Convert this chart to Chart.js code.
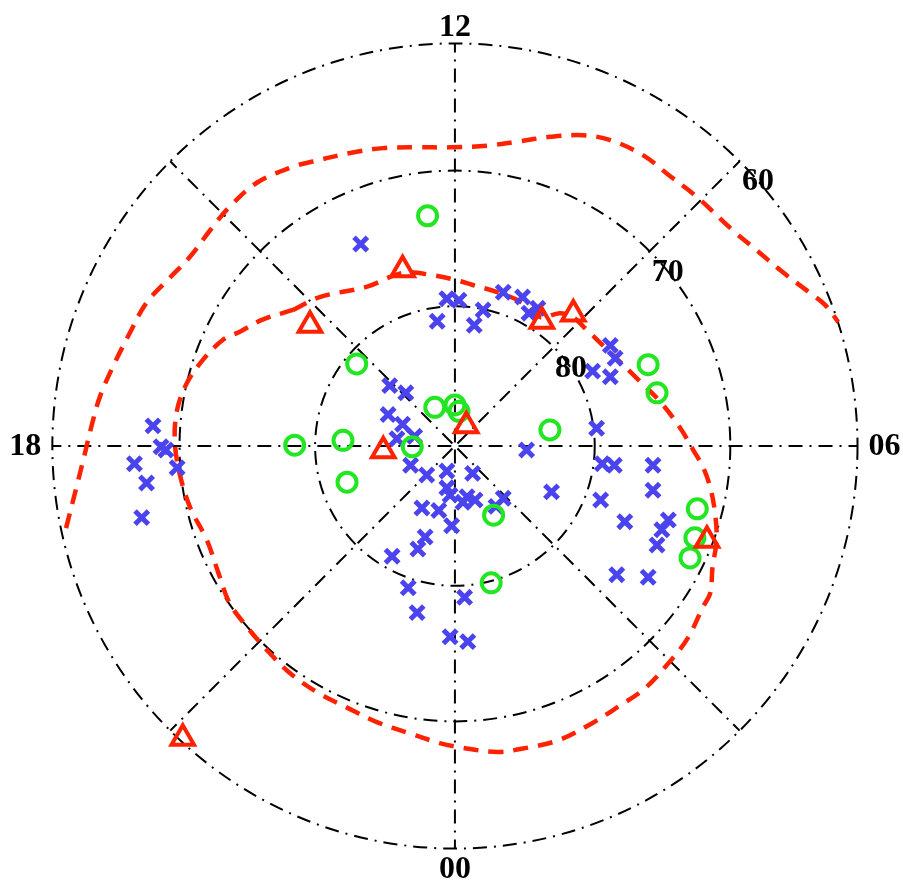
<!DOCTYPE html>
<html>
<head>
<meta charset="utf-8">
<script src="https://cdn.jsdelivr.net/npm/chart.js@4.4.1/dist/chart.umd.min.js"></script>
<style>
  html, body { margin: 0; padding: 0; background: #fff; }
  #wrap { width: 903px; height: 882px; }
</style>
</head>
<body>
<div id="wrap"><canvas id="polarChart"></canvas></div>
<script>
// positions on the polar plane: r = 100*cos(lat), x toward 06 MLT, y toward 12 MLT
const crossX = [-37.5, -36.5, -35.9, -39.8, -34.5, -38.3, -38.9, -11.7, -1.0, 0.5, -2.2, 3.5, 2.4, 6.0, 8.4, 9.2,
  10.3, 19.3, 19.9, 17.1, 19.3, 17.6, 18.3, 19.8, 24.6, 24.6, 18.1, 21.1, 26.5, 25.7, 25.1, 20.1, 24.0,
  -8.1, -6.1, -8.3, -6.5, -5.0, -7.2, -5.5, -3.5, -1.0, 2.2, -1.0, -0.6, 1.5, 2.5, 1.0, 5.1, 6.0,
  -4.1, -2.0, -0.4, -3.7, -4.6, -7.8, -5.8, -4.7, 1.2, -0.6, 1.6, 8.9, 12.0];
const crossY = [2.5, -0.1, -0.5, -2.2, -2.7, -4.6, -8.9, 25.1, 18.3, 18.1, 15.5, 16.9, 15.0, 19.1, 18.5, 16.5,
  17.1, 12.5, 10.9, 9.3, 8.6, 2.2, -2.2, -2.4, -2.4, -5.5, -6.7, -9.4, -9.2, -10.4, -12.3, -16.0, -16.3,
  7.5, 6.6, 3.9, 2.7, 1.2, 0.9, -2.4, -3.6, -3.1, -3.4, -5.2, -6.1, -6.3, -6.7, -7.0, -7.5, -6.5,
  -7.7, -8.0, -9.9, -11.3, -12.8, -13.7, -17.6, -20.7, -18.8, -23.7, -24.3, -0.5, -5.7];

const circleX = [-3.4, -12.2, -2.5, 0.0, 0.5, -5.3, -19.9, -13.9, -13.4, 11.8, 4.8, 4.5, 24.0, 25.1, 30.1, 29.8, 29.2];
const circleY = [28.6, 10.2, 4.8, 5.1, 4.3, -0.1, 0.1, 0.7, -4.5, 2.0, -8.6, -17.0, 10.1, 6.6, -7.8, -11.4, -13.9];

const triX = [-6.5, -18.0, -8.9, 1.4, 10.8, 14.7, 31.3, -33.8];
const triY = [21.9, 15.0, -0.6, 2.5, 15.5, 16.4, -11.7, -36.3];

const outerX = [-48.3, -47.0, -46.0, -45.1, -44.1, -42.5, -40.4, -38.3, -35.4, -32.9, -30.4, -28.0, -24.6, -20.1,
  -17.8, -13.0, -8.9, -4.7, -0.6, 4.0, 7.7, 11.8, 15.9, 19.3, 23.4, 26.5, 30.1, 34.5, 37.5, 40.7, 44.1, 46.0, 47.6];
const outerY = [-10.2, -5.1, -1.1, 2.6, 6.1, 9.8, 14.0, 17.8, 20.9, 23.5, 26.8, 29.7, 32.7, 34.7,
  35.3, 36.4, 37.0, 37.1, 37.1, 37.3, 37.8, 38.4, 38.6, 38.0, 36.1, 33.7, 30.9, 26.8, 24.3, 21.6, 19.0, 17.5, 15.4];

const innerX = [-20.1, -16.8, -10.9, -6.5, -2.7, 0.2, 2.2, 5.6, 8.4, 10.6, 13.0, 14.5, 16.4, 19.3, 22.6, 25.5,
  28.0, 29.6, 30.8, 31.7, 32.3, 32.5, 32.0, 31.7, 30.8, 28.9, 26.5, 23.6, 20.1, 17.1, 13.0, 8.9, 5.2, 1.0,
  -1.9, -5.6, -9.7, -13.4, -17.1, -20.5, -23.4, -25.8, -28.0, -29.4, -30.8, -32.9, -34.2, -34.8, -34.5,
  -33.3, -31.3, -28.8, -26.7, -23.9, -20.1];
const innerY = [16.9, 18.5, 19.8, 21.5, 21.2, 20.6, 20.0, 19.0, 17.8, 16.0, 16.5, 16.1, 14.4, 11.6, 8.4, 5.5,
  2.2, -0.5, -2.6, -5.1, -8.3, -11.7, -15.0, -18.3, -20.0, -23.9, -27.0, -30.1, -32.5, -34.4, -36.5, -37.5, -38.0, -37.5,
  -36.9, -35.7, -34.3, -32.5, -30.6, -28.2, -25.3, -22.5, -19.5, -15.7, -11.7, -7.6, -3.4, 0.7, 4.5,
  7.8, 10.7, 13.2, 14.2, 15.7, 16.9];

const latCircles = [80, 70, 60];
const mltLabels = ['12', '06', '00', '18'];

const toPts = (xs, ys) => xs.map((v, i) => ({ x: v, y: ys[i] }));
const rad = d => d * Math.PI / 180;

const polarGrid = {
  id: 'polarGrid',
  beforeDatasetsDraw(chart) {
    const { ctx, scales: { x, y } } = chart;
    const cx = x.getPixelForValue(0), cy = y.getPixelForValue(0);
    const len = v => x.getPixelForValue(v) - cx;
    ctx.save();
    ctx.strokeStyle = '#000';
    ctx.lineWidth = 2;
    ctx.setLineDash([14, 7, 2, 7]);
    latCircles.forEach(lat => {
      ctx.beginPath();
      ctx.arc(cx, cy, len(100 * Math.cos(rad(lat))), 0, Math.PI * 2);
      ctx.stroke();
    });
    const rOut = len(100 * Math.cos(rad(Math.min(...latCircles))));
    ctx.lineDashOffset = 5;
    for (let h = 0; h < 24; h += 3) {
      const a = rad(h * 15);
      ctx.beginPath();
      ctx.moveTo(cx + rOut * Math.sin(a), cy + rOut * Math.cos(a));
      ctx.lineTo(cx, cy);
      ctx.stroke();
    }
    ctx.restore();
  },
  afterDatasetsDraw(chart) {
    const { ctx, scales: { x, y } } = chart;
    const cx = x.getPixelForValue(0), cy = y.getPixelForValue(0);
    const len = v => x.getPixelForValue(v) - cx;
    const rOut = len(100 * Math.cos(rad(Math.min(...latCircles))));
    ctx.save();
    ctx.fillStyle = '#000';
    ctx.font = 'bold 32px "Liberation Serif", "Times New Roman", serif';
    ctx.textAlign = 'center';
    ctx.textBaseline = 'middle';
    // MLT labels around the outer circle
    const gaps = [17, 27, 20, 27];
    mltLabels.forEach((t, i) => {
      const a = rad(Number(t) * 15);
      const r = rOut + gaps[i];
      ctx.fillText(t, cx + r * Math.sin(a), cy + r * Math.cos(a) + 1);
    });
    // latitude labels next to the 09 MLT spoke
    latCircles.forEach(lat => {
      const r = len(100 * Math.cos(rad(lat)));
      const a = Math.PI / 4 - 27 / r;
      ctx.fillText(String(lat), cx + r * Math.cos(a), cy - r * Math.sin(a) + 1);
    });
    ctx.restore();
  }
};

const red = '#ff2200';
const blue = '#4b44ee';
const green = '#22e622';

new Chart(document.getElementById('polarChart'), {
  type: 'scatter',
  data: {
    datasets: [
      {
        data: toPts(triX, triY), pointStyle: 'triangle', pointRadius: 13, borderWidth: 4,
        borderColor: red, backgroundColor: 'rgba(0,0,0,0)', order: 1
      },
      {
        data: toPts(circleX, circleY), pointStyle: 'circle', pointRadius: 9.5, borderWidth: 4,
        borderColor: green, backgroundColor: 'rgba(0,0,0,0)', order: 2
      },
      {
        data: toPts(crossX, crossY), pointStyle: 'crossRot', pointRadius: 9.5, borderWidth: 5,
        borderColor: blue, backgroundColor: blue, order: 3
      },
      {
        data: toPts(outerX, outerY), showLine: true, pointRadius: 0, borderColor: red, borderWidth: 4.5,
        borderDash: [15, 10], tension: 0.35, order: 4
      },
      {
        data: toPts(innerX, innerY), showLine: true, pointRadius: 0, borderColor: red, borderWidth: 4.5,
        borderDash: [15, 10], tension: 0.35, order: 4
      }
    ]
  },
  options: {
    responsive: true,
    maintainAspectRatio: false,
    animation: false,
    layout: { padding: 0, autoPadding: false },
    plugins: { legend: { display: false }, tooltip: { enabled: false } },
    scales: {
      x: { type: 'linear', min: -56.5, max: 55.65, display: false },
      y: { type: 'linear', min: -54.16, max: 55.4, display: false }
    }
  },
  plugins: [polarGrid]
});
</script>
</body>
</html>
